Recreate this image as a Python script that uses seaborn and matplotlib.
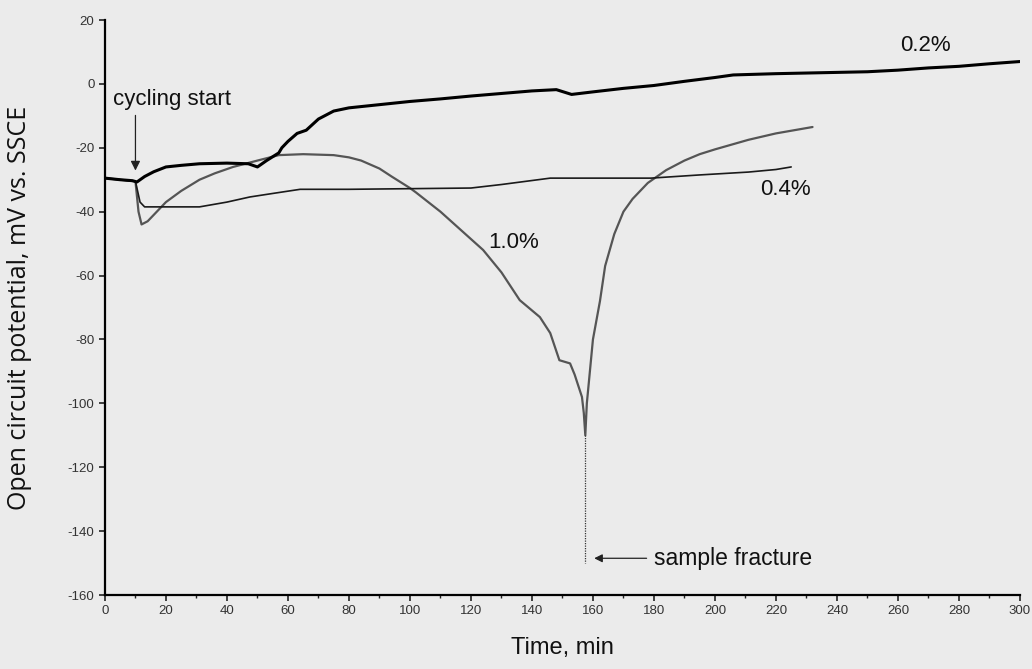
import numpy as np
import pandas as pd
import seaborn as sns
import matplotlib.pyplot as plt
from matplotlib.ticker import MultipleLocator

# 0.2% curve
t_02 = [0, 5, 9, 10.5, 13, 16, 20, 25, 31, 40, 47, 50, 53, 57, 58, 60, 63, 66, 70, 75, 80, 90,
        100, 110, 120, 130, 140, 148, 153, 160, 170, 180, 190, 200, 206, 220, 240, 250, 260,
        270, 280, 290, 300]
v_02 = [-29.5, -30, -30.3, -30.7, -29, -27.5, -26, -25.5, -25, -24.8, -25, -26, -24, -21.6,
        -20, -18, -15.5, -14.5, -11, -8.5, -7.5, -6.5, -5.5, -4.7, -3.8, -3, -2.2, -1.8, -3.3,
        -2.5, -1.4, -0.5, 0.8, 2, 2.8, 3.2, 3.6, 3.8, 4.3, 5, 5.5, 6.3, 7]

# 0.4% curve
t_04 = [0, 5, 10, 11.5, 13, 20, 31, 40, 47.5, 55, 64, 72, 80, 100, 120, 130, 146, 160, 179,
        195, 211, 220, 225]
v_04 = [-29.5, -30, -30.5, -37, -38.5, -38.5, -38.5, -37, -35.4, -34.3, -33, -33, -33, -32.8,
        -32.6, -31.5, -29.5, -29.5, -29.5, -28.5, -27.6, -26.8, -26]

# 1.0% curve
t_10 = [0, 5, 10, 11, 12, 14, 17, 20, 25, 31, 36, 42, 50, 57, 65, 75, 80, 84, 90, 94, 100,
        102, 110, 117, 124, 130, 136, 142.6, 146, 149, 152.5, 154, 156.4, 157, 157.5, 158,
        160, 162.3, 164, 167, 170, 173, 178, 184, 190, 195, 200, 211, 220, 232]
v_10 = [-29.5, -30, -30.5, -40, -44, -43, -40, -37, -33.5, -30, -28, -26, -24, -22.3, -22,
        -22.3, -23, -24, -26.5, -29, -32.6, -34, -40, -46, -52, -59, -67.7, -73, -78, -86.5,
        -87.5, -91, -98, -103, -110, -100, -80, -68, -57, -47, -40, -36, -31, -27, -24, -22,
        -20.5, -17.5, -15.5, -13.5]

fracture_t = 157.5
fracture_v = [-110, -150]

x_ticks = list(range(0, 301, 20))
y_ticks = list(range(-160, 21, 20))

sns.set_style("ticks")
plt.rcParams['font.family'] = ['Liberation Sans', 'DejaVu Sans']
plt.rcParams['axes.unicode_minus'] = False

bg = '#ebebeb'
fig = plt.figure(figsize=(10.32, 6.69), dpi=100, facecolor=bg)
ax = fig.add_axes([0.1017, 0.1106, 0.8866, 0.8595])
ax.set_facecolor(bg)

sns.lineplot(x=t_10, y=v_10, ax=ax, color='#555555', linewidth=1.6, sort=False)
sns.lineplot(x=t_04, y=v_04, ax=ax, color='#1a1a1a', linewidth=1.2, sort=False)
sns.lineplot(x=t_02, y=v_02, ax=ax, color='black', linewidth=2.2, sort=False)
ax.plot([fracture_t, fracture_t], fracture_v, color='#333333', linestyle=(0, (1, 1)),
        linewidth=0.9)

ax.set_xlim(0, 300)
ax.set_ylim(-160, 20)
ax.set_xticks(x_ticks)
ax.set_yticks(y_ticks)
ax.xaxis.set_minor_locator(MultipleLocator(10))
sns.despine(ax=ax)
for s in ['left', 'bottom']:
    ax.spines[s].set_linewidth(1.6)
    ax.spines[s].set_color('black')
ax.tick_params(axis='both', which='major', labelsize=9.5, labelcolor='#333333', length=4,
               width=1.2, color='#222222')
ax.tick_params(axis='x', which='minor', length=2.5, width=1, color='#222222')

ax.set_xlabel('Time, min', fontsize=17, color='#111111', labelpad=14)
ax.set_ylabel('Open circuit potential, mV vs. SSCE', fontsize=18, color='#111111',
              family=['Open Sans', 'DejaVu Sans'], labelpad=26)

ax.text(269, 12, '0.2%', fontsize=16, ha='center', va='center', color='#111111')
ax.text(223, -33, '0.4%', fontsize=16, ha='center', va='center', color='#111111')
ax.text(134, -49.5, '1.0%', fontsize=16, ha='center', va='center', color='#111111')

ax.text(2.5, -5, 'cycling start', fontsize=16, ha='left', va='center', color='#111111')
ax.annotate('', xy=(10, -28), xytext=(10, -9),
            arrowprops=dict(arrowstyle='-|>', color='#222222', lw=0.9, mutation_scale=14))
ax.text(180, -148.5, 'sample fracture', fontsize=16.5, ha='left', va='center', color='#111111')
ax.annotate('', xy=(159.5, -148.5), xytext=(178.5, -148.5),
            arrowprops=dict(arrowstyle='-|>', color='#222222', lw=0.9, mutation_scale=12))

fig.savefig('out.png', dpi=100, facecolor=bg)
